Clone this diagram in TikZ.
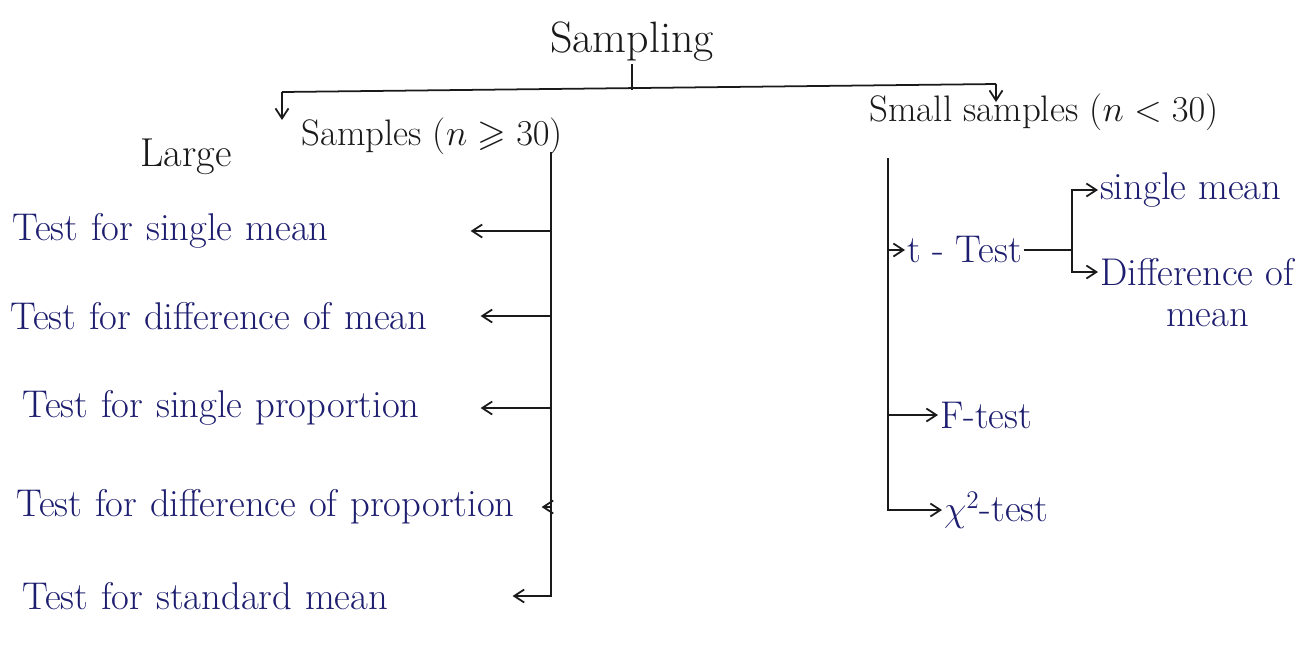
\documentclass[tikz,border=0pt]{standalone}
\usepackage{amssymb}
\usepackage{tikz}
\usepackage{xcolor}
\usetikzlibrary{arrows.meta,positioning,calc}
\definecolor{Ink}{HTML}{1A1A1A}
\definecolor{Pen}{HTML}{1E1E70}
\begin{document}
\begin{tikzpicture}[
  x=0.02cm, y=-0.02cm,
  head/.style={text=Ink,font=\fontsize{21}{25}\selectfont,inner sep=1pt},
  item/.style={text=Pen,font=\fontsize{22}{26}\selectfont,anchor=west,align=left,inner sep=0pt},
  leaf/.style={text=Pen,font=\fontsize{22}{26}\selectfont,anchor=west,inner sep=1pt},
  wire/.style={draw=Ink,line width=1pt},
  arrow/.style={-{Straight Barb[length=2mm,width=2.6mm]},line width=1pt,draw=Ink}
]
\fill[white] (0,0) rectangle (1312,657);
\useasboundingbox (0,0) rectangle (1312,657);
\node[head,font=\fontsize{25}{29}\selectfont] (samp) at (632,42) {Sampling};
\coordinate (top) at (632,90);
\coordinate (lft) at (282,92);
\coordinate (rgt) at (996,84);
\coordinate (lftend) at (282,120);
\coordinate (rgtend) at (996,102);
\draw[wire] (samp.south) -- (top);
\draw[wire] (lft) -- (rgt);
\draw[arrow] (lft) -- (lftend);
\draw[arrow] (rgt) -- (rgtend);
\node[head,font=\fontsize{23}{27}\selectfont] (large) at (186,157) {Large};
\node[head] (lsamp) at (432,136) {Samples ($n \geqslant 30$)};
\node[head] (small) at (1044,112) {Small samples ($n<30$)};
\coordinate (ltop) at (551,152);
\coordinate (rtop) at (888,158);
\node[item,text width=9.16cm] (i1) at (12,231) {Test for single mean};
\node[item,text width=9.4cm] (i2) at (10,316) {Test for difference of mean};
\node[item,text width=9.16cm] (i3) at (22,408) {Test for single proportion};
\node[item,text width=10.5cm] (i4) at (16,507) {Test for difference of proportion};
\node[item,text width=9.8cm] (i5) at (22,596) {Test for standard mean};
\draw[wire] (ltop) -- (ltop |- i4.east);
\foreach \n in {i1,i2,i3,i4}
  \draw[arrow] (\n.east -| ltop) -- (\n.east);
\draw[arrow] (ltop) |- (i5.east);
\node[leaf] (ttest) at (905,250) {t - Test};
\node[leaf] (ftest) at (938,415) {F-test};
\node[leaf] (chi) at (942,510) {$\chi^2$-test};
\coordinate (tj) at (1072,250);
\node[leaf] (single) at (1098,190) {single mean};
\node[leaf] (diff) at (1098,272) {Difference of};
\node[leaf] (diffm) at (1164,318) {mean};
\draw[arrow] (rtop) |- (ttest.west);
\draw[arrow] (ftest.west -| rtop) -- (ftest.west);
\draw[arrow] (rtop) |- (chi.west);
\draw[wire] (ttest.east) -- (tj);
\draw[arrow] (tj) |- (single.west);
\draw[arrow] (tj) |- (diff.west);
\end{tikzpicture}
\end{document}
